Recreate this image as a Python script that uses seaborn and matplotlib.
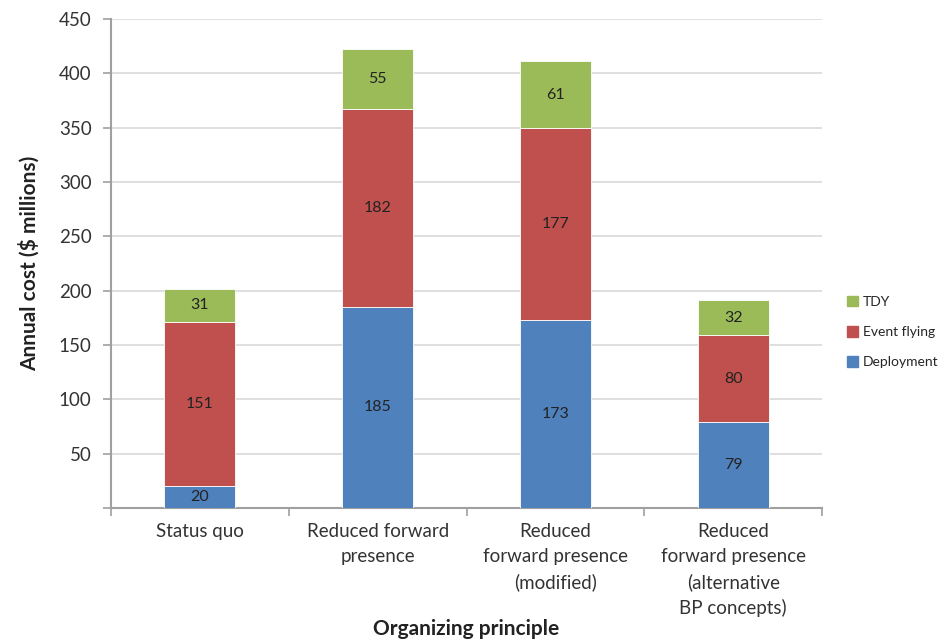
import matplotlib
matplotlib.use("Agg")
import matplotlib.pyplot as plt
import seaborn as sns
import pandas as pd
from matplotlib.patches import Patch

categories = [
    "Status quo",
    "Reduced forward\npresence",
    "Reduced\nforward presence\n(modified)",
    "Reduced\nforward presence\n(alternative\nBP concepts)",
]
deployment = [20, 185, 173, 79]
event_flying = [151, 182, 177, 80]
tdy = [31, 55, 61, 32]

colors = {"Deployment": "#4F81BD", "Event flying": "#C0504D", "TDY": "#9BBB59"}

sns.set_theme(style="white")
plt.rcParams["font.family"] = ["Lato", "DejaVu Sans"]

df = pd.DataFrame({
    "category": categories,
    "Deployment": deployment,
    "Event flying": event_flying,
    "TDY": tdy,
})

fig = plt.figure(figsize=(9.45, 6.42), dpi=100)
ax = fig.add_axes([0.1175, 0.2087, 0.7525, 0.7617])

bottoms = [0] * len(categories)
for series in ["Deployment", "Event flying", "TDY"]:
    vals = df[series].tolist()
    sns.barplot(data=df, x="category", y=series, color=colors[series],
                bottom=bottoms, width=0.4, ax=ax, saturation=1,
                edgecolor="white", linewidth=0.6, zorder=3)
    for i, v in enumerate(vals):
        ax.text(i, bottoms[i] + v / 2, str(v), ha="center", va="center",
                fontsize=11.5, color="#222222", zorder=4)
    bottoms = [b + v for b, v in zip(bottoms, vals)]

ax.set_xlim(-0.5, len(categories) - 0.5)
ax.set_ylim(0, 450)
ax.set_yticks(range(0, 451, 50))
ax.set_yticklabels([""] + [str(v) for v in range(50, 451, 50)], fontsize=13.5, color="#333333")
ax.yaxis.grid(True, color="#D9D9D9", linewidth=1.2, zorder=0)
ax.set_axisbelow(True)

ax.set_xticks([i - 0.5 for i in range(len(categories) + 1)])
ax.set_xticklabels([])
ax.set_xticks(range(len(categories)), minor=True)
ax.set_xticklabels(categories, minor=True, fontsize=13.5, color="#333333", linespacing=1.55)
ax.tick_params(axis="x", which="minor", length=0, pad=11, bottom=False)
ax.tick_params(axis="x", which="major", length=6, width=1.2, color="#A0A0A0",
               direction="out", bottom=True)
ax.tick_params(axis="y", length=6, width=1.2, color="#A0A0A0", direction="out",
               pad=8, left=True)

for side in ["top", "right"]:
    ax.spines[side].set_visible(False)
for side in ["left", "bottom"]:
    ax.spines[side].set_color("#A0A0A0")
    ax.spines[side].set_linewidth(1.5)

ax.set_xlabel("Organizing principle", fontsize=15, fontweight="bold", color="#222222", labelpad=1)
ax.set_ylabel("Annual cost ($ millions)", fontsize=15, fontweight="bold", color="#222222", labelpad=14)

handles = [Patch(color=colors[k]) for k in ["TDY", "Event flying", "Deployment"]]
fig.legend(handles, ["TDY", "Event flying", "Deployment"], loc="upper left",
           bbox_to_anchor=(0.89, 0.548), frameon=False, fontsize=10,
           handlelength=0.8, handleheight=0.8, handletextpad=0.35, labelspacing=1.3,
           borderaxespad=0)

fig.savefig("out.png", dpi=100)
